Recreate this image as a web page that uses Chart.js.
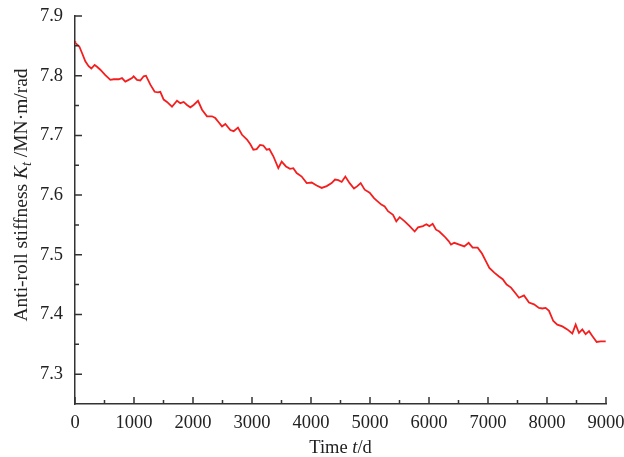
<!DOCTYPE html>
<html>
<head>
<meta charset="utf-8">
<script src="https://cdn.jsdelivr.net/npm/chart.js@4/dist/chart.umd.min.js"></script>
<style>
html,body{margin:0;padding:0;background:#fff;}
#wrap{width:624px;height:457px;position:relative;}
</style>
</head>
<body>
<div id="wrap"><canvas id="c" width="624" height="457"></canvas></div>
<script>
const days = [0,5,73,119,175,231,277,333,373,429,514,599,655,740,797,853,910,966,994,1051,1107,1164,1203,1277,1350,1407,1446,1503,1559,1644,1729,1785,1842,1898,1955,2011,2085,2153,2237,2322,2378,2435,2492,2548,2633,2689,2762,2831,2915,2972,3023,3079,3136,3192,3249,3294,3362,3446,3503,3576,3644,3700,3757,3842,3927,4011,4096,4181,4266,4350,4407,4463,4520,4582,4655,4729,4785,4842,4910,4994,5068,5124,5192,5249,5305,5390,5446,5503,5588,5672,5757,5814,5898,5955,6006,6062,6119,6175,6260,6333,6373,6429,6514,6598,6672,6740,6825,6898,6966,7023,7107,7181,7249,7316,7390,7463,7525,7610,7695,7780,7864,7921,7977,8034,8107,8175,8260,8344,8429,8486,8542,8599,8655,8712,8768,8842,8910,8995];
const stiffness = [7.858,7.855,7.849,7.838,7.824,7.816,7.812,7.818,7.815,7.810,7.801,7.793,7.794,7.794,7.796,7.790,7.793,7.796,7.799,7.793,7.792,7.799,7.800,7.785,7.773,7.772,7.773,7.760,7.756,7.748,7.758,7.754,7.756,7.751,7.747,7.751,7.758,7.743,7.732,7.732,7.729,7.722,7.715,7.719,7.709,7.707,7.713,7.701,7.693,7.685,7.676,7.677,7.684,7.683,7.676,7.677,7.665,7.645,7.656,7.648,7.644,7.645,7.637,7.631,7.620,7.621,7.616,7.612,7.615,7.620,7.626,7.625,7.622,7.631,7.620,7.611,7.615,7.620,7.609,7.604,7.595,7.590,7.584,7.581,7.573,7.567,7.556,7.563,7.556,7.548,7.539,7.546,7.548,7.551,7.548,7.552,7.542,7.539,7.531,7.523,7.517,7.520,7.517,7.514,7.520,7.512,7.512,7.502,7.489,7.478,7.470,7.464,7.459,7.450,7.445,7.436,7.428,7.432,7.420,7.417,7.411,7.410,7.411,7.406,7.389,7.383,7.380,7.375,7.368,7.383,7.369,7.375,7.367,7.372,7.364,7.354,7.355,7.355];
const xTicks = [0,1000,2000,3000,4000,5000,6000,7000,8000,9000];
const xMinor = [500,1500,2500,3500,4500,5500,6500,7500,8500];
const yTicks = [7.3,7.4,7.5,7.6,7.7,7.8,7.9];
const yMinor = [7.35,7.45,7.55,7.65,7.75,7.85];

const FONT = '"Liberation Serif","Times New Roman",serif';
const AXIS_COLOR = '#333';

const decor = {
  id: 'decor',
  afterDraw(chart) {
    const ctx = chart.ctx;
    const xs = chart.scales.x, ys = chart.scales.y;
    const a = chart.chartArea;
    ctx.save();
    ctx.strokeStyle = AXIS_COLOR;
    ctx.lineWidth = 1.5;
    ctx.beginPath();
    xTicks.forEach(v => { const p = xs.getPixelForValue(v); ctx.moveTo(p, a.bottom); ctx.lineTo(p, a.bottom - 7); });
    xMinor.forEach(v => { const p = xs.getPixelForValue(v); ctx.moveTo(p, a.bottom); ctx.lineTo(p, a.bottom - 4); });
    yTicks.forEach(v => { const p = ys.getPixelForValue(v); ctx.moveTo(a.left, p); ctx.lineTo(a.left + 7, p); });
    yMinor.forEach(v => { const p = ys.getPixelForValue(v); ctx.moveTo(a.left, p); ctx.lineTo(a.left + 4, p); });
    ctx.stroke();

    ctx.fillStyle = '#222';
    ctx.textBaseline = 'alphabetic';
    const fs = 18.5;
    const parts = [
      {t:'Time ', f: `${fs}px ${FONT}`},
      {t:'t', f: `italic ${fs}px ${FONT}`},
      {t:'/d', f: `${fs}px ${FONT}`}
    ];
    let w = 0;
    parts.forEach(p => { ctx.font = p.f; p.w = ctx.measureText(p.t).width; w += p.w; });
    let x = (a.left + a.right) / 2 - w / 2;
    ctx.textAlign = 'left';
    parts.forEach(p => { ctx.font = p.f; ctx.fillText(p.t, x, 453); x += p.w; });

    const fy = 19.5;
    const yparts = [
      {t:'Anti-roll stiffness ', f: `${fy}px ${FONT}`, dy: 0},
      {t:'K', f: `italic ${fy}px ${FONT}`, dy: 0},
      {t:'t', f: `italic ${Math.round(fy*0.7)}px ${FONT}`, dy: 4},
      {t:' /MN\u00b7m/rad', f: `${fy}px ${FONT}`, dy: 0}
    ];
    w = 0;
    yparts.forEach(p => { ctx.font = p.f; p.w = ctx.measureText(p.t).width; w += p.w; });
    ctx.translate(27, 195);
    ctx.rotate(-Math.PI / 2);
    x = -w / 2;
    yparts.forEach(p => { ctx.font = p.f; ctx.fillText(p.t, x, p.dy); x += p.w; });
    ctx.restore();
  }
};

new Chart(document.getElementById('c'), {
  type: 'line',
  data: {
    datasets: [{
      data: days.map((d, i) => ({x: d, y: stiffness[i]})),
      borderColor: '#f41e1e',
      borderWidth: 1.8,
      pointRadius: 0,
      tension: 0,
      fill: false
    }]
  },
  options: {
    responsive: false,
    animation: false,
    events: [],
    layout: {padding: {top: 16, right: 18, left: 0, bottom: 0}},
    plugins: {legend: {display: false}, tooltip: {enabled: false}},
    scales: {
      x: {
        type: 'linear', min: 0, max: 9000,
        afterFit(s) { s.height = 53; s.paddingLeft = 0; s.paddingRight = 0; },
        afterBuildTicks(s) { s.ticks = xTicks.map(v => ({value: v})); },
        grid: {display: true, drawOnChartArea: false, drawTicks: false},
        border: {display: true, color: AXIS_COLOR, width: 1.5},
        ticks: {padding: 8, color: '#222', font: {family: FONT, size: 18.5}, maxRotation: 0, autoSkip: false, callback: v => String(v)}
      },
      y: {
        type: 'linear', min: 7.25, max: 7.9,
        afterFit(s) { s.width = 75; s.paddingTop = 0; s.paddingBottom = 0; },
        afterBuildTicks(s) { s.ticks = yTicks.map(v => ({value: v})); },
        grid: {display: true, drawOnChartArea: false, drawTicks: false},
        border: {display: true, color: AXIS_COLOR, width: 1.5},
        ticks: {padding: 12, color: '#222', font: {family: FONT, size: 18.5}, autoSkip: false, callback: v => Number(v).toFixed(1)}
      }
    }
  },
  plugins: [decor]
});
</script>
</body>
</html>
